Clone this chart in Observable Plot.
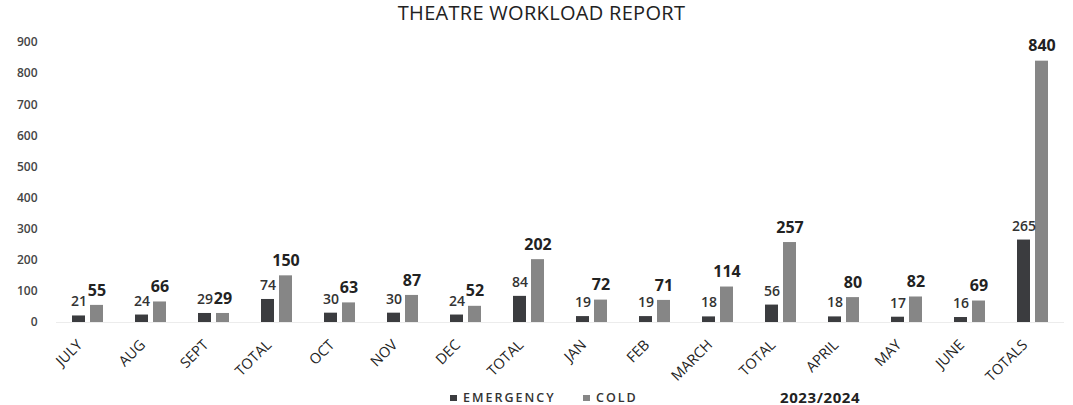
<!DOCTYPE html>
<html>
<head>
<meta charset="utf-8">
<script src="https://cdn.jsdelivr.net/npm/d3@7"></script>
<script src="https://cdn.jsdelivr.net/npm/@observablehq/plot@0.6"></script>
<style>
  html, body { margin: 0; padding: 0; background: #fff; width: 1073px; height: 405px; overflow: hidden; font-family: "Open Sans", sans-serif; }
  #title { height: 26px; line-height: 26px; text-align: center; font-size: 20px; color: #222; padding-left: 10px; letter-spacing: 0.3px; }
  #legend { position: relative; height: 20px; line-height: 20px; font-size: 12.5px; font-weight: 600; color: #333; letter-spacing: 2px; }
  #legend .item { position: absolute; top: 3px; }
  #legend .sw { display: inline-block; width: 7px; height: 6px; margin-right: 6px; vertical-align: 1px; }
  #legend .season { position: absolute; top: 2px; left: 780px; font-size: 15px; font-weight: 700; letter-spacing: 0.6px; color: #222; }
</style>
</head>
<body>
<div id="title">THEATRE WORKLOAD REPORT</div>
<div id="chart"></div>
<div id="legend"></div>
<script>
const categories = ["JULY", "AUG", "SEPT", "TOTAL", "OCT", "NOV", "DEC", "TOTAL", "JAN", "FEB", "MARCH", "TOTAL", "APRIL", "MAY", "JUNE", "TOTALS"];
const emergency = [21, 24, 29, 74, 30, 30, 24, 84, 19, 19, 18, 56, 18, 17, 16, 265];
const cold = [55, 66, 29, 150, 63, 87, 52, 202, 72, 71, 114, 257, 80, 82, 69, 840];
const seriesNames = ["EMERGENCY", "COLD"];
const seriesColors = ["#3b3c3f", "#868686"];
const yTicks = [0, 100, 200, 300, 400, 500, 600, 700, 800, 900];
const seasonLabel = "2023/2024";

const keys = categories.map((c, i) => i + ":" + c);
const labelOf = new Map(keys.map((k, i) => [k, categories[i]]));

const data = [];
keys.forEach((k, i) => {
  data.push({key: k, series: seriesNames[0], value: emergency[i]});
  data.push({key: k, series: seriesNames[1], value: cold[i]});
});
const emData = data.filter(d => d.series === seriesNames[0]);
const coData = data.filter(d => d.series === seriesNames[1]);

const chart = Plot.plot({
  width: 1073,
  height: 359,
  marginLeft: 50,
  marginRight: 4,
  marginTop: 16,
  marginBottom: 63,
  style: {fontFamily: "Open Sans, sans-serif", background: "transparent"},
  fx: {domain: keys, padding: 0, axis: null, label: null},
  x: {domain: seriesNames, axis: null, paddingInner: 0.27, paddingOuter: 0.86},
  y: {domain: [0, 900], axis: null},
  color: {domain: seriesNames, range: seriesColors},
  marks: [
    Plot.ruleY([0], {stroke: "#ececec", strokeWidth: 1}),
    Plot.axisY(yTicks, {tickSize: 0, tickPadding: 19, label: null, fontSize: 12, fontWeight: 600, fill: "#444"}),
    Plot.axisFx({anchor: "bottom", tickFormat: k => labelOf.get(k), tickRotate: -45, tickSize: 0, tickPadding: 20, label: null, fontSize: 14.5, fontWeight: 500, fill: "#222", dx: -8}),
    Plot.barY(data, {fx: "key", x: "series", y: "value", fill: "series"}),
    Plot.text(emData, {fx: "key", x: "series", y: "value", text: d => String(d.value), dy: -14, fontSize: 14, fontWeight: 600, fill: "#333"}),
    Plot.text(coData, {fx: "key", x: "series", y: "value", text: d => String(d.value), dy: -15, fontSize: 16, fontWeight: 700, fill: "#222"})
  ]
});
document.getElementById("chart").appendChild(chart);

const legend = document.getElementById("legend");
const positions = [450, 583];
seriesNames.forEach((n, i) => {
  const it = document.createElement("span");
  it.className = "item";
  it.style.left = positions[i] + "px";
  it.innerHTML = `<span class="sw" style="background:${seriesColors[i]}"></span>${n}`;
  legend.appendChild(it);
});
const s = document.createElement("span");
s.className = "season";
s.textContent = seasonLabel;
legend.appendChild(s);
</script>
</body>
</html>
